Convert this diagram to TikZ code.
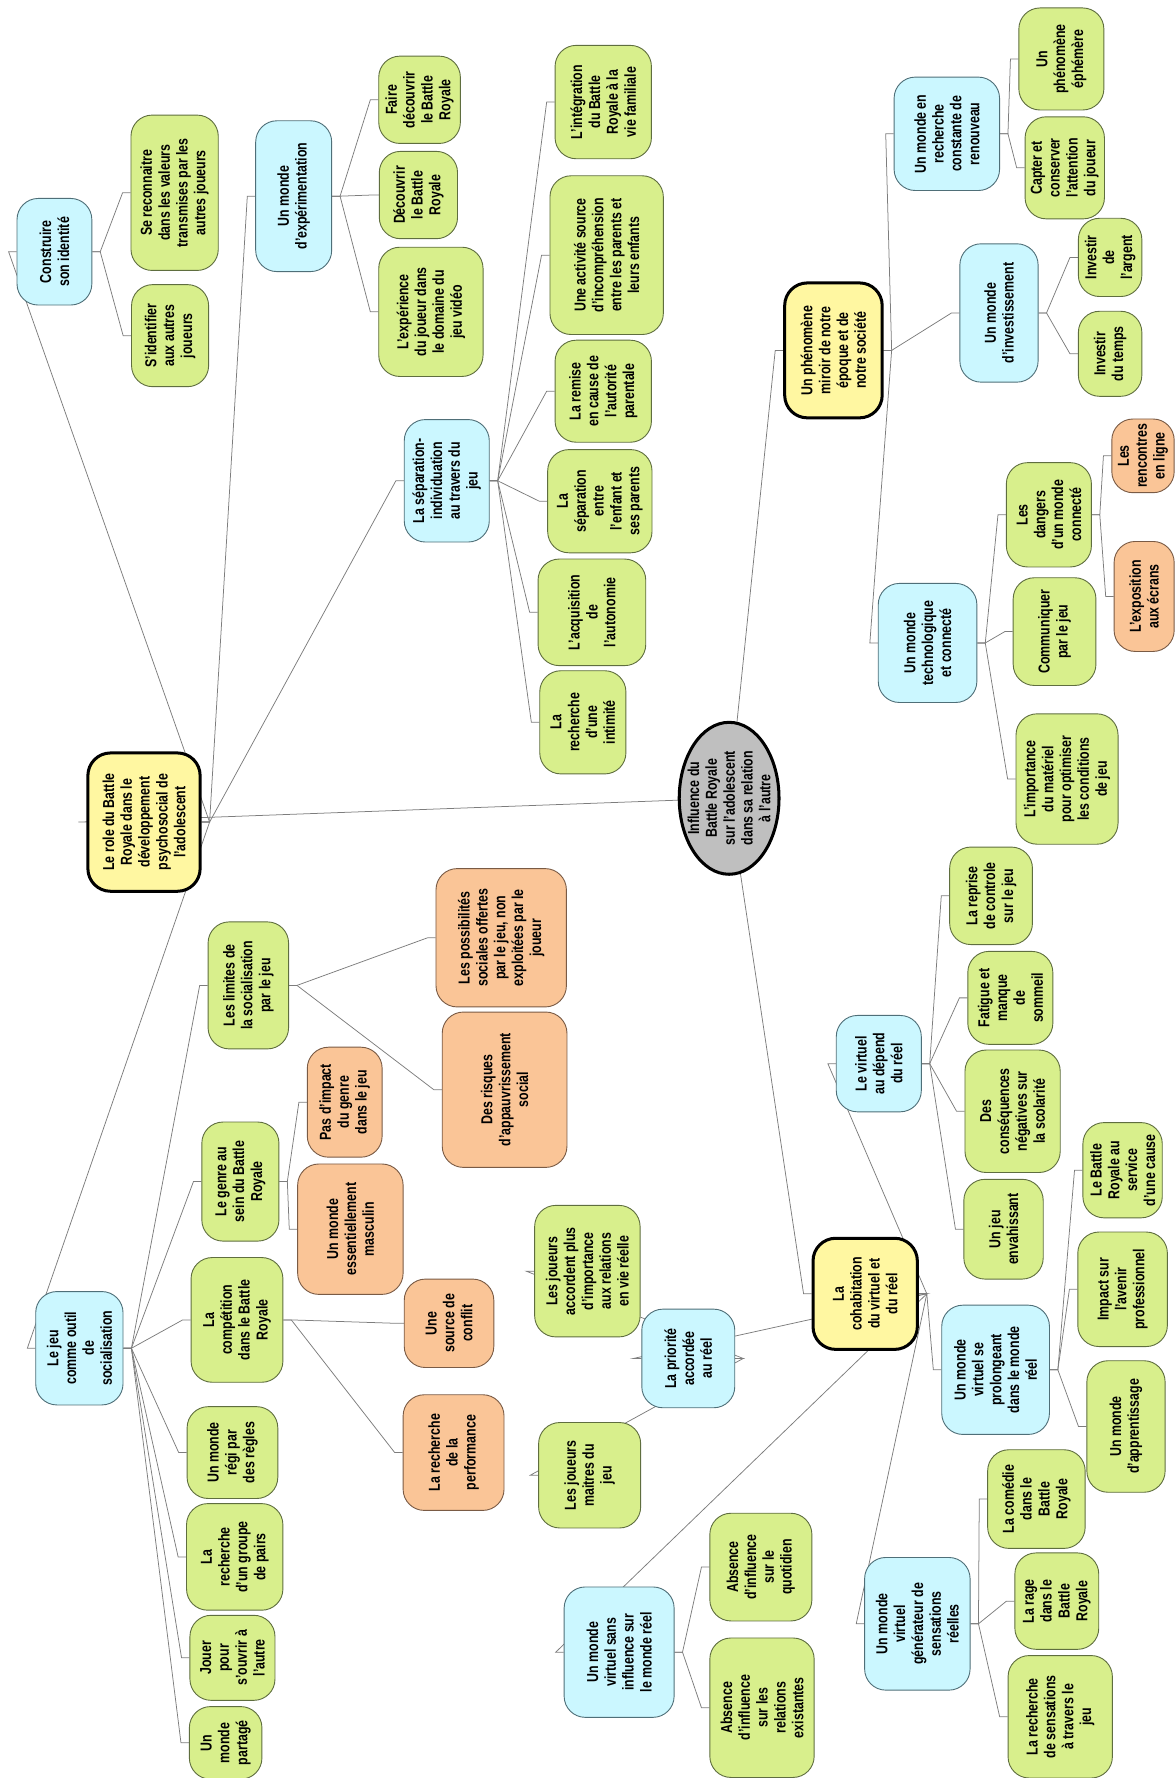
\documentclass[tikz,border=0pt]{standalone}
\usepackage{fontspec}
\setmainfont{Liberation Sans}[FakeStretch=0.78]
\usetikzlibrary{shapes.geometric,backgrounds}
\definecolor{leaf}{HTML}{D8EF8C}
\definecolor{leafline}{HTML}{5F6E3F}
\definecolor{sky}{HTML}{CBF7FF}
\definecolor{skyline}{HTML}{4F6F78}
\definecolor{peach}{HTML}{FAC597}
\definecolor{peachline}{HTML}{7A5B45}
\definecolor{lemon}{HTML}{FFF7A1}
\definecolor{stone}{HTML}{BFBFBF}
\definecolor{wirecol}{HTML}{7D7D7D}

\begin{document}
\begin{tikzpicture}[x=0.75pt,y=-0.75pt,
  every node/.style={rotate=90, align=center, font=\bfseries\fontsize{10.5}{11.8}\selectfont},
  bx/.style args={#1/#2}{rectangle, rounded corners=14pt, draw=#1, fill=#2, line width=0.6pt, inner sep=1pt},
  sz/.style args={#1/#2}{minimum width=#2*0.75pt, minimum height=#1*0.75pt},
  leafbox/.style={bx=leafline/leaf},
  skybox/.style={bx=skyline/sky},
  peachbox/.style={bx=peachline/peach},
  mainbox/.style={rectangle, rounded corners=15pt, draw=black, fill=lemon, line width=2pt, inner sep=1pt},
  wire/.style={draw=wirecol, line width=0.5pt}]
\useasboundingbox (0,0) rectangle (1037,1568);

\node (root) [ellipse, draw=black, fill=stone, line width=2pt, sz=88/134] at (643,704) {};
\node (rootlbl) at (root.center) {Influence du\\Battle Royale\\sur l'adolescent\\dans sa relation\\à l'autre};

\node (role) [mainbox, sz=99/122] at (127,725) {Le role du Battle\\Royale dans le\\développement\\psychosocial de\\l'adolescent};
\node (pheno) [mainbox, sz=86/119] at (735,309) {Un phénomène\\miroir de notre\\époque et de\\notre société};
\node (cohab) [mainbox, sz=92/98] at (763,1141) {La\\cohabitation\\du virtuel et\\du réel};

\node (constr) [skybox, sz=66/94] at (48,222) {Construire\\son identité};
\node (sereco) [leafbox, sz=77/137] at (154,170) {Se reconnaitre\\dans les valeurs\\transmises par les\\autres joueurs};
\node (sident) [leafbox, sz=68/90] at (150,296) {S'identifier\\aux autres\\joueurs};
\node (exper) [skybox, sz=67/133] at (259,173) {Un monde\\d'expérimentation};
\node (fairedec) [leafbox, sz=72/77] at (370,88) {Faire\\découvrir\\le Battle\\Royale};
\node (decouv) [leafbox, sz=69/77] at (369,172) {Découvrir\\le Battle\\Royale};
\node (experj) [leafbox, sz=92/114] at (380,275) {L'expérience\\du joueur dans\\le domaine du\\jeu vidéo};
\node (sepind) [skybox, sz=75/108] at (394,424) {La séparation-\\individuation\\au travers du\\jeu};
\node (integr) [leafbox, sz=85/100] at (532,90) {L'intégration\\du Battle\\Royale à la\\vie familiale};
\node (activ) [leafbox, sz=100/140] at (535,225) {Une activité source\\d'incompréhension\\entre les parents et\\leurs enfants};
\node (remise) [leafbox, sz=85/90] at (532,345) {La remise\\en cause de\\l'autorité\\parentale};
\node (separ) [leafbox, sz=92/91] at (529,442) {La\\séparation\\entre\\l'enfant et\\ses parents};
\node (acquis) [leafbox, sz=95/94] at (522,540) {L'acquisition\\de\\l'autonomie};
\node (intim) [leafbox, sz=76/91] at (514,637) {La\\recherche\\d'une\\intimité};

\node (renouv) [skybox, sz=93/100] at (835,118) {Un monde en\\recherche\\constante de\\renouveau};
\node (ephem) [leafbox, sz=75/90] at (936,52) {Un\\phénomène\\éphémère};
\node (capter) [leafbox, sz=70/90] at (939,148) {Capter et\\conserver\\l'attention\\du joueur};
\node (invest) [skybox, sz=69/122] at (881,276) {Un monde\\d'investissement};
\node (argent) [leafbox, sz=56/69] at (979,227) {Investir\\de\\l'argent};
\node (temps) [leafbox, sz=56/75] at (979,312) {Investir\\du temps};
\node (techno) [skybox, sz=87/105] at (818,567) {Un monde\\technologique\\et connecté};
\node (dangers) [leafbox, sz=75/92] at (925,454) {Les\\dangers\\d'un monde\\connecté};
\node (commun) [leafbox, sz=73/95] at (930,557) {Communiquer\\par le jeu};
\node (materiel) [leafbox, sz=90/115] at (941,687) {L'importance\\du matériel\\pour optimiser\\les conditions\\de jeu};
\node (rencontr) [peachbox, sz=55/65] at (1008,402) {Les\\rencontres\\en ligne};
\node (expos) [peachbox, sz=53/97] at (1009,526) {L'exposition\\aux écrans};

\node (socia) [skybox, sz=77/100] at (70,1189) {Le jeu\\comme outil\\de\\socialisation};
\node (limites) [leafbox, sz=71/112] at (219,869) {Les limites de\\la socialisation\\par le jeu};
\node (possib) [peachbox, sz=115/122] at (442,827) {Les possibilités\\sociales offertes\\par le jeu, non\\exploitées par le\\joueur};
\node (risques) [peachbox, sz=110/137] at (445,961) {Des risques\\d'appauvrissement\\social};
\node (genre) [leafbox, sz=68/105] at (212,1042) {Le genre au\\sein du Battle\\Royale};
\node (impact) [peachbox, sz=66/97] at (304,972) {Pas d'impact\\du genre\\dans le jeu};
\node (masculin) [peachbox, sz=93/115] at (309,1084) {Un monde\\essentiellement\\masculin};
\node (compet) [leafbox, sz=81/110] at (209,1164) {La\\compétition\\dans le Battle\\Royale};
\node (conflit) [peachbox, sz=79/78] at (396,1167) {Une\\source de\\conflit};
\node (perf) [peachbox, sz=89/102] at (400,1281) {La recherche\\de la\\performance};
\node (regles) [leafbox, sz=80/81] at (205,1281) {Un monde\\régi par\\des règles};
\node (groupe) [leafbox, sz=85/94] at (207,1373) {La\\recherche\\d'un groupe\\de pairs};
\node (jouer) [leafbox, sz=75/75] at (205,1462) {Jouer\\pour\\s'ouvrir à\\l'autre};
\node (partage) [leafbox, sz=64/64] at (199,1537) {Un\\monde\\partagé};

\node (priorite) [skybox, sz=82/87] at (607,1198) {La priorité\\accordée\\au réel};
\node (accord) [leafbox, sz=93/116] at (518,1121) {Les joueurs\\accordent plus\\d'importance\\aux relations\\en vie réelle};
\node (maitres) [leafbox, sz=90/93] at (520,1301) {Les joueurs\\maitres du\\jeu};
\node (sansinfl) [skybox, sz=97/115] at (546,1457) {Un monde\\virtuel sans\\influence sur\\le monde réel};
\node (quotid) [leafbox, sz=90/95] at (671,1382) {Absence\\d'influence\\sur le\\quotidien};
\node (relat) [leafbox, sz=92/123] at (672,1506) {Absence\\d'influence\\sur les\\relations\\existantes};
\node (virtdep) [skybox, sz=75/85] at (775,938) {Le virtuel\\au dépend\\du réel};
\node (reprise) [leafbox, sz=73/86] at (874,790) {La reprise\\de controle\\sur le jeu};
\node (fatigue) [leafbox, sz=75/82] at (891,880) {Fatigue et\\manque\\de\\sommeil};
\node (conseq) [leafbox, sz=84/108] at (893,980) {Des\\conséquences\\négatives sur\\la scolarité};
\node (envah) [leafbox, sz=70/88] at (885,1084) {Un jeu\\envahissant};
\node (prolong) [skybox, sz=95/114] at (878,1208) {Un monde\\virtuel se\\prolongeant\\dans le monde\\réel};
\node (cause) [leafbox, sz=70/84] at (990,1032) {Le Battle\\Royale au\\service\\d'une cause};
\node (avenir) [leafbox, sz=79/101] at (990,1137) {Impact sur\\l'avenir\\professionnel};
\node (apprent) [leafbox, sz=69/116] at (993,1258) {Un monde\\d'apprentissage};
\node (generat) [skybox, sz=93/117] at (809,1432) {Un monde\\virtuel\\générateur de\\sensations\\réelles};
\node (comedie) [leafbox, sz=86/87] at (914,1322) {La comédie\\dans le\\Battle\\Royale};
\node (rage) [leafbox, sz=74/85] at (932,1412) {La rage\\dans le\\Battle\\Royale};
\node (sensat) [leafbox, sz=92/108] at (935,1514) {La recherche\\de sensations\\à travers le\\jeu};

\begin{scope}[on background layer]
\foreach \to in {role,pheno,cohab}
  \draw[wire] (root.center) -- ([xshift=-5.25pt]\to.north) -- (\to.north);
\foreach \from/\to in {role/constr,role/exper,role/sepind,role/socia,
  constr/sereco,constr/sident,exper/fairedec,exper/decouv,exper/experj,
  sepind/integr,sepind/activ,sepind/remise,sepind/separ,sepind/acquis,sepind/intim,
  pheno/renouv,pheno/invest,pheno/techno,renouv/ephem,renouv/capter,
  invest/argent,invest/temps,techno/dangers,techno/commun,techno/materiel,
  dangers/rencontr,dangers/expos,
  socia/limites,socia/genre,socia/compet,socia/regles,socia/groupe,socia/jouer,socia/partage,
  limites/possib,limites/risques,genre/impact,genre/masculin,compet/conflit,compet/perf,
  cohab/priorite,cohab/sansinfl,cohab/virtdep,cohab/prolong,cohab/generat,
  priorite/accord,priorite/maitres,sansinfl/quotid,sansinfl/relat,
  virtdep/reprise,virtdep/fatigue,virtdep/conseq,virtdep/envah,
  prolong/cause,prolong/avenir,prolong/apprent,
  generat/comedie,generat/rage,generat/sensat}
  \draw[wire] (\from.south) -- ++(7,0) -- ([xshift=-5.25pt]\to.north) -- (\to.north);
\end{scope}
\end{tikzpicture}
\end{document}
